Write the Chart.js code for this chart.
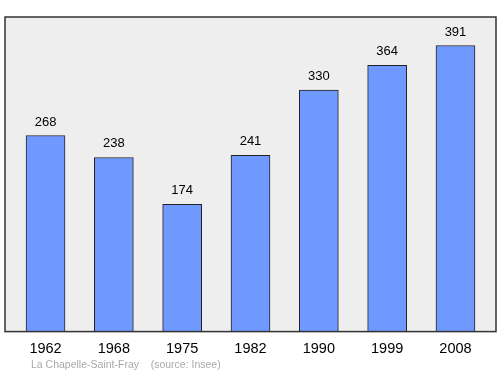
<!DOCTYPE html>
<html>
<head>
<meta charset="utf-8">
<script src="https://cdn.jsdelivr.net/npm/chart.js@4"></script>
<style>
  html, body { margin: 0; padding: 0; background: #fff; }
  #wrap { position: relative; width: 500px; height: 374px; }
  #source {
    position: absolute; left: 31px; top: 358px;
    font: 10.5px "Liberation Sans", Arial, sans-serif; color: #aaa;
    white-space: pre;
  }
</style>
</head>
<body>
<div id="wrap">
  <canvas id="grafico" width="500" height="374"></canvas>
  <div id="source">La Chapelle-Saint-Fray    (source: Insee)</div>
</div>
<script>
const annees = ["1962", "1968", "1975", "1982", "1990", "1999", "2008"];
const population = [268, 238, 174, 241, 330, 364, 391];

const ctxDOM = document.getElementById("grafico").getContext("2d");

// Fondo gris y marco del area del grafico
const fondo = {
  id: "fondo",
  beforeDraw(chart) {
    const { ctx, chartArea: a } = chart;
    ctx.save();
    ctx.fillStyle = "#eeeeee";
    ctx.fillRect(a.left, a.top, a.right - a.left, a.bottom - a.top);
    ctx.restore();
  },
  afterDraw(chart) {
    const { ctx, chartArea: a } = chart;
    ctx.save();
    ctx.strokeStyle = "#333";
    ctx.lineWidth = 1.5;
    ctx.strokeRect(a.left, a.top, a.right - a.left, a.bottom - a.top);
    ctx.restore();
  }
};

// Valores encima de cada barra
const etiquetas = {
  id: "etiquetas",
  afterDatasetsDraw(chart) {
    const { ctx } = chart;
    const meta = chart.getDatasetMeta(0);
    ctx.save();
    ctx.font = "13px 'Liberation Sans', Arial, sans-serif";
    ctx.fillStyle = "#000";
    ctx.textAlign = "center";
    ctx.textBaseline = "alphabetic";
    meta.data.forEach((bar, i) => {
      ctx.fillText(population[i], bar.x, bar.y - 10);
    });
    ctx.restore();
  }
};

new Chart(ctxDOM, {
  type: "bar",
  data: {
    datasets: [{
      data: population.map((v, i) => ({ x: i, y: v })),
      backgroundColor: "#7099ff",
      borderColor: "#222",
      borderWidth: 1,
      barThickness: 39
    }]
  },
  options: {
    responsive: false,
    animation: false,
    layout: { padding: { left: 5, right: 4, top: 17, bottom: 7 } },
    plugins: { legend: { display: false }, tooltip: { enabled: false } },
    scales: {
      x: {
        type: "linear",
        offset: false,
        min: -0.593,
        max: 6.593,
        grid: { display: false, drawTicks: false },
        border: { display: false },
        afterBuildTicks(axis) {
          axis.ticks = annees.map((a, i) => ({ value: i }));
        },
        ticks: {
          padding: 9,
          color: "#000",
          font: { size: 14.5, family: "'Liberation Sans', Arial, sans-serif" },
          callback: (v) => annees[v]
        }
      },
      y: {
        display: false,
        min: 0,
        max: 430
      }
    }
  },
  plugins: [fondo, etiquetas]
});
</script>
</body>
</html>
